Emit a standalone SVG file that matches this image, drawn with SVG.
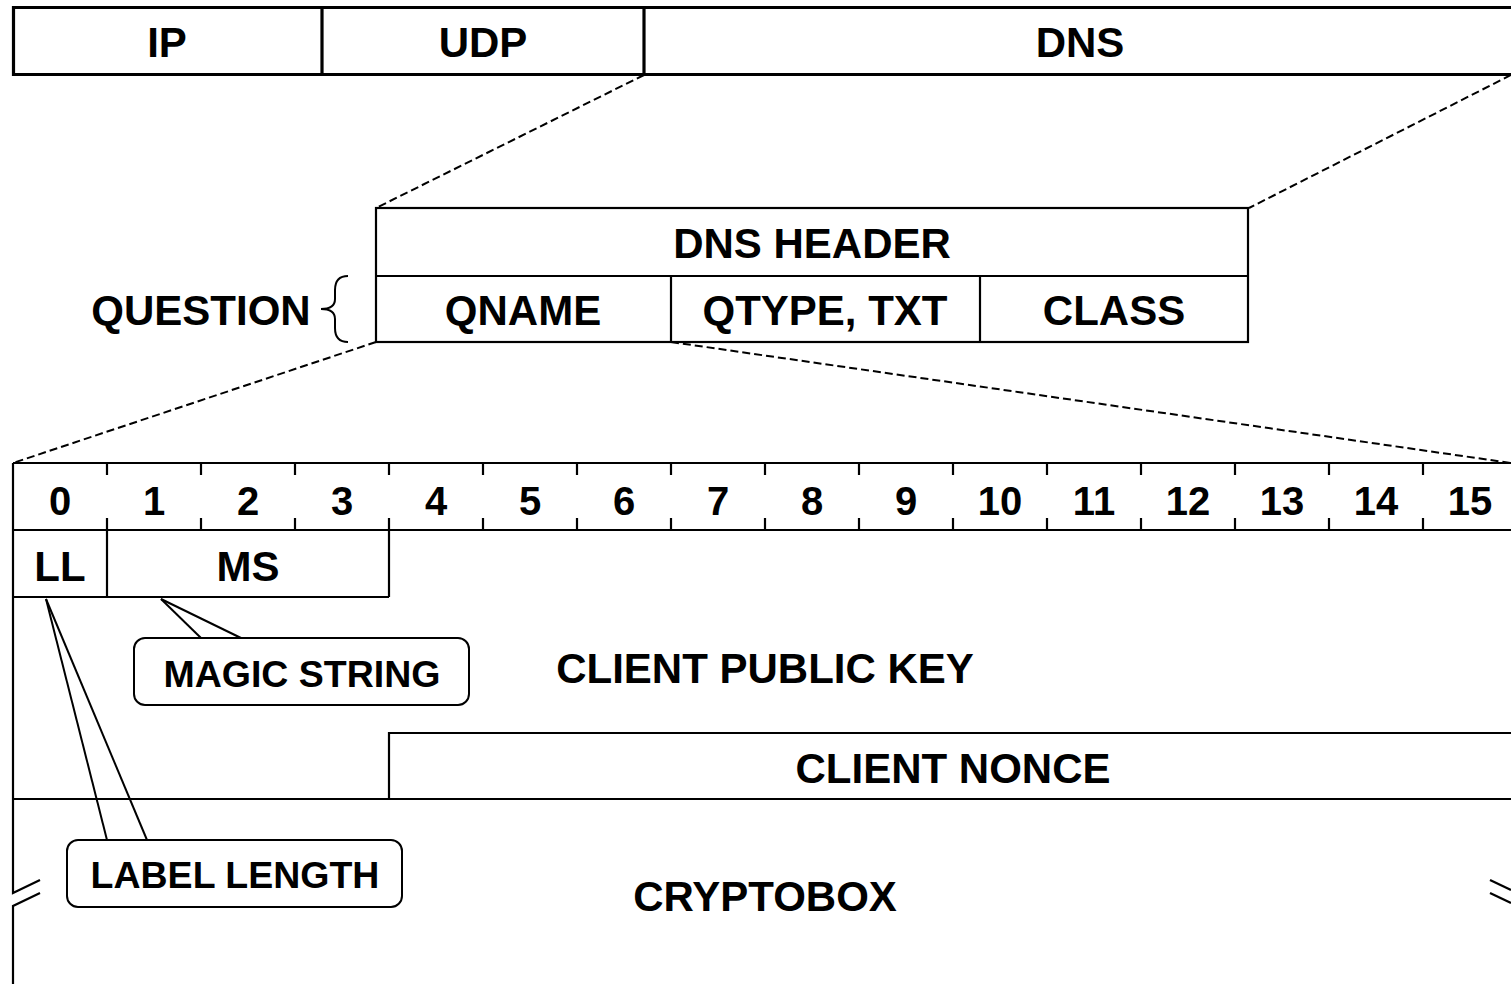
<svg xmlns="http://www.w3.org/2000/svg" width="1511" height="984" viewBox="0 0 1511 984">
  <style>
    .bg { fill: #ffffff; }
    .box { fill: none; stroke: #000; stroke-width: 2.2; }
    .heavy { fill: none; stroke: #000; stroke-width: 3.2; }
    .thin { fill: none; stroke: #000; stroke-width: 2; }
    .dash { fill: none; stroke: #000; stroke-width: 2; stroke-dasharray: 8 4; }
    .callout { fill: #fff; stroke: #000; stroke-width: 2; }
    text { font-family: "Liberation Sans", Arial, Helvetica, sans-serif; font-weight: bold; fill: #000; text-anchor: middle; }
    .lbl { font-size: 42px; }
    .num { font-size: 40px; }
    .small { font-size: 37.5px; }
  </style>
  <rect class="bg" x="0" y="0" width="1511" height="984"/>

  <!-- Packet layers: IP / UDP / DNS -->
  <g id="packet">
    <path class="heavy" d="M1515,7.5 H13.5 V74.5 H1515"/>
    <line class="heavy" x1="322" y1="7.5" x2="322" y2="74.5"/>
    <line class="heavy" x1="644" y1="7.5" x2="644" y2="74.5"/>
    <text class="lbl" x="167" y="57">IP</text>
    <text class="lbl" x="483" y="57">UDP</text>
    <text class="lbl" x="1080" y="57">DNS</text>
  </g>

  <!-- DNS message: header and question -->
  <g id="dns-message">
    <rect class="box" x="376" y="208" width="872" height="134"/>
    <line class="box" x1="376" y1="276" x2="1248" y2="276"/>
    <line class="box" x1="671" y1="276" x2="671" y2="342"/>
    <line class="box" x1="980" y1="276" x2="980" y2="342"/>
    <text class="lbl" x="812" y="258">DNS HEADER</text>
    <text class="lbl" x="523" y="325">QNAME</text>
    <text class="lbl" x="825" y="325">QTYPE, TXT</text>
    <text class="lbl" x="1114" y="325">CLASS</text>
  </g>

  <!-- Question brace -->
  <g id="question">
    <path class="thin" d="M348,276 Q335,276 335,290 L335,299 Q335,309 321,309 Q335,309 335,319 L335,328 Q335,342 348,342"/>
    <text class="lbl" x="201" y="325">QUESTION</text>
  </g>

  <!-- Zoom-in connectors -->
  <g id="connectors">
    <line class="dash" x1="644" y1="75" x2="376" y2="208"/>
    <line class="dash" x1="1511" y1="75" x2="1249" y2="208"/>
    <line class="dash" x1="376" y1="342" x2="13" y2="463"/>
    <line class="dash" x1="671" y1="342" x2="1511" y2="463"/>
    <!-- callout leaders -->
    <line class="thin" x1="161" y1="599" x2="201" y2="638"/>
    <line class="thin" x1="161" y1="599" x2="241" y2="638"/>
    <line class="thin" x1="46" y1="599" x2="107" y2="840"/>
    <line class="thin" x1="46" y1="599" x2="147" y2="840"/>
  </g>

  <!-- Byte ruler 0..15 -->
  <g id="ruler">
    <line class="box" x1="13" y1="463" x2="1511" y2="463"/>
    <line class="box" x1="13" y1="530" x2="1511" y2="530"/>
    <g class="box">
      <path d="M107,463 V475 M107,518 V530 M201,463 V475 M201,518 V530 M295,463 V475 M295,518 V530 M389,463 V475 M389,518 V530 M483,463 V475 M483,518 V530 M577,463 V475 M577,518 V530 M671,463 V475 M671,518 V530 M765,463 V475 M765,518 V530 M859,463 V475 M859,518 V530 M953,463 V475 M953,518 V530 M1047,463 V475 M1047,518 V530 M1141,463 V475 M1141,518 V530 M1235,463 V475 M1235,518 V530 M1329,463 V475 M1329,518 V530 M1423,463 V475 M1423,518 V530"/>
    </g>
    <text class="num" x="60" y="515">0</text>
    <text class="num" x="154" y="515">1</text>
    <text class="num" x="248" y="515">2</text>
    <text class="num" x="342" y="515">3</text>
    <text class="num" x="436" y="515">4</text>
    <text class="num" x="530" y="515">5</text>
    <text class="num" x="624" y="515">6</text>
    <text class="num" x="718" y="515">7</text>
    <text class="num" x="812" y="515">8</text>
    <text class="num" x="906" y="515">9</text>
    <text class="num" x="1000" y="515">10</text>
    <text class="num" x="1094" y="515">11</text>
    <text class="num" x="1188" y="515">12</text>
    <text class="num" x="1282" y="515">13</text>
    <text class="num" x="1376" y="515">14</text>
    <text class="num" x="1470" y="515">15</text>
  </g>

  <!-- Payload fields -->
  <g id="payload">
    <!-- left edge with break -->
    <path class="box" d="M13,463 V893 L40,880"/>
    <path class="box" d="M40,893 L13,906 V984"/>
    <!-- right edge break marks -->
    <line class="box" x1="1490" y1="880" x2="1511" y2="890"/>
    <line class="box" x1="1490" y1="893" x2="1511" y2="903"/>
    <line class="box" x1="13" y1="597" x2="389" y2="597"/>
    <line class="box" x1="107" y1="530" x2="107" y2="597"/>
    <line class="box" x1="389" y1="530" x2="389" y2="597"/>
    <path class="box" d="M1515,733 H389 V799"/>
    <line class="box" x1="13" y1="799" x2="1511" y2="799"/>
  </g>

  <g id="ll"><text class="lbl" x="60" y="581">LL</text></g>
  <g id="ms"><text class="lbl" x="248" y="581">MS</text></g>
  <g id="client-public-key"><text class="lbl" x="765" y="683">CLIENT PUBLIC KEY</text></g>
  <g id="client-nonce"><text class="lbl" x="953" y="783">CLIENT NONCE</text></g>
  <g id="cryptobox"><text class="lbl" x="765" y="911">CRYPTOBOX</text></g>

  <g id="magic-string">
    <rect class="callout" x="134" y="638" width="335" height="67" rx="11"/>
    <text class="small" x="302" y="687">MAGIC STRING</text>
  </g>
  <g id="label-length">
    <rect class="callout" x="67" y="840" width="335" height="67" rx="11"/>
    <text class="small" x="235" y="888">LABEL LENGTH</text>
  </g>
</svg>
